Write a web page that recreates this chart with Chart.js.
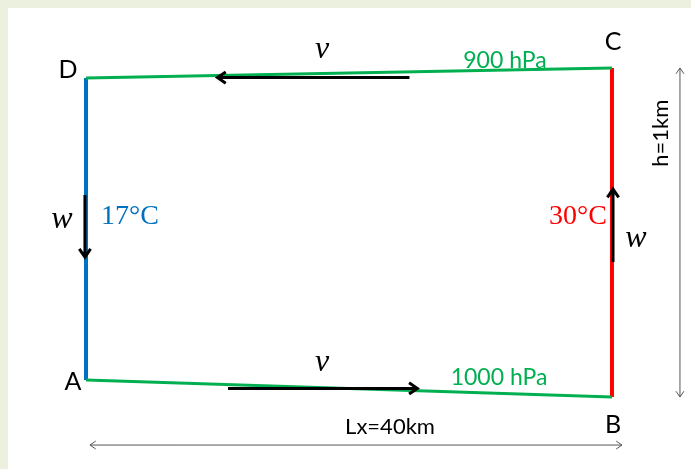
<!DOCTYPE html>
<html>
<head>
<meta charset="utf-8">
<script src="https://cdn.jsdelivr.net/npm/chart.js@4.4.0/dist/chart.umd.min.js"></script>
<style>
  html, body { margin: 0; padding: 0; background: #ebf1de; }
  #wrap { position: relative; width: 691px; height: 469px; }
  #panel { position: absolute; left: 8px; top: 8px; right: 0; bottom: 0; background: #fff; }
  canvas { position: absolute; left: 0; top: 0; }
</style>
</head>
<body>
<div id="wrap"><div id="panel"></div><canvas id="cell" width="691" height="469"></canvas></div>
<script>
// circulation cell corners: x in km, z in m (slightly tilted isobars)
const cornerNames = ['A', 'B', 'C', 'D'];
const cornerX = [0, 40, 40, 0];
const cornerZ = [52, 0, 1000, 970];
const isobarLabels = ['1000 hPa', '900 hPa'];
const tempLabels = ['17°C', '30°C'];
const dimLabels = ['Lx=40km', 'h=1km'];

const GREEN = '#00b050';
const BLUE = '#0070c0';
const RED = '#ff0000';

const pt = i => ({ x: cornerX[i], y: cornerZ[i] });

// arrows: tail -> head, in km / m
const flowArrows = [
  { from: [24.6, 971], to: [10.0, 971] },   // v aloft
  { from: [10.8, 26], to: [25.2, 26] },     // v near surface
  { from: [-0.08, 614], to: [-0.08, 425] }, // w sinking
  { from: [40.08, 410], to: [40.08, 632] }  // w rising
];
const dimArrows = [
  { from: [0.3, -146], to: [40.76, -146] },
  { from: [45.17, 0], to: [45.17, 1000] }
];

const serif = '"Liberation Serif", "DejaVu Serif", serif';
const sans = 'Lato, "Open Sans", sans-serif';
const texts = [
  { t: cornerNames[3], x: -1.37, y: 994, font: '25px ' + sans, color: '#000' },
  { t: cornerNames[2], x: 40.08, y: 1079, font: '25px ' + sans, color: '#000' },
  { t: cornerNames[0], x: -0.99, y: 46, font: '25px ' + sans, color: '#000' },
  { t: cornerNames[1], x: 40.08, y: -85, font: '25px ' + sans, color: '#000' },
  { t: isobarLabels[1], x: 31.86, y: 1024, font: '23px ' + sans, color: GREEN },
  { t: isobarLabels[0], x: 31.41, y: 58, font: '23px ' + sans, color: GREEN },
  { t: 'v', x: 17.95, y: 1055, font: 'italic 32px ' + serif, color: '#000' },
  { t: 'v', x: 17.95, y: 106, font: 'italic 32px ' + serif, color: '#000' },
  { t: 'w', x: -1.83, y: 538, font: 'italic 32px ' + serif, color: '#000' },
  { t: 'w', x: 41.82, y: 483, font: 'italic 32px ' + serif, color: '#000' },
  { t: tempLabels[0], x: 3.35, y: 547, font: '28px ' + serif, color: BLUE },
  { t: tempLabels[1], x: 37.41, y: 547, font: '28px ' + serif, color: RED },
  { t: dimLabels[0], x: 23.12, y: -91, font: '22px ' + sans, color: '#000' },
  { t: dimLabels[1], x: 43.73, y: 802, font: '22px ' + sans, color: '#000', rot: -Math.PI / 2 }
];

function drawArrow(ctx, x0, y0, x1, y1, head, both) {
  const a = Math.atan2(y1 - y0, x1 - x0);
  ctx.beginPath();
  ctx.moveTo(x0, y0);
  ctx.lineTo(x1, y1);
  const tip = (x, y, ang) => {
    ctx.moveTo(x - head * Math.cos(ang - 0.6), y - head * Math.sin(ang - 0.6));
    ctx.lineTo(x, y);
    ctx.lineTo(x - head * Math.cos(ang + 0.6), y - head * Math.sin(ang + 0.6));
  };
  tip(x1, y1, a);
  if (both) tip(x0, y0, a + Math.PI);
  ctx.stroke();
}

const overlay = {
  id: 'overlay',
  afterDatasetsDraw(chart) {
    const { ctx, scales: { x, y } } = chart;
    ctx.save();
    ctx.strokeStyle = '#000';
    ctx.lineWidth = 3;
    flowArrows.forEach(a => drawArrow(ctx,
      x.getPixelForValue(a.from[0]), y.getPixelForValue(a.from[1]),
      x.getPixelForValue(a.to[0]), y.getPixelForValue(a.to[1]), 10, false));
    ctx.strokeStyle = '#555';
    ctx.lineWidth = 1;
    dimArrows.forEach(a => drawArrow(ctx,
      x.getPixelForValue(a.from[0]), y.getPixelForValue(a.from[1]),
      x.getPixelForValue(a.to[0]), y.getPixelForValue(a.to[1]), 7, true));
    ctx.textAlign = 'center';
    ctx.textBaseline = 'middle';
    texts.forEach(s => {
      ctx.save();
      ctx.translate(x.getPixelForValue(s.x), y.getPixelForValue(s.y));
      if (s.rot) ctx.rotate(s.rot);
      ctx.font = s.font;
      ctx.fillStyle = s.color;
      ctx.fillText(s.t, 0, 0);
      ctx.restore();
    });
    ctx.restore();
  }
};

const seg = (i, j, color, w) => ({
  data: [pt(i), pt(j)],
  borderColor: color,
  borderWidth: w,
  showLine: true,
  pointRadius: 0,
  borderCapStyle: 'butt'
});

new Chart(document.getElementById('cell'), {
  type: 'scatter',
  data: {
    datasets: [
      seg(3, 2, GREEN, 3),  // 900 hPa
      seg(0, 1, GREEN, 3),  // 1000 hPa
      seg(3, 0, BLUE, 4),
      seg(2, 1, RED, 4)
    ]
  },
  options: {
    responsive: false,
    animation: false,
    layout: { padding: 0 },
    plugins: { legend: { display: false }, tooltip: { enabled: false } },
    scales: {
      x: { type: 'linear', display: false, min: -6.54, max: 46.01 },
      y: { type: 'linear', display: false, min: -218.8, max: 1206.7 }
    }
  },
  plugins: [overlay]
});
</script>
</body>
</html>
